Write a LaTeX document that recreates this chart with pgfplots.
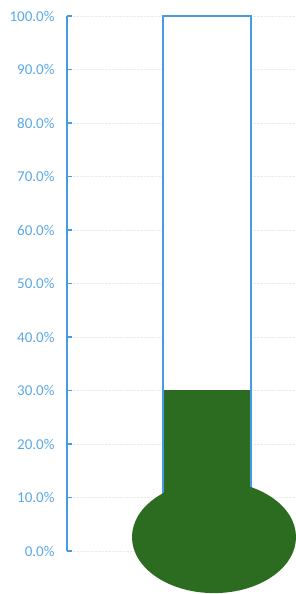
\documentclass[border=0pt]{standalone}
\usepackage{pgfplots}
\pgfplotsset{compat=1.18}
\usepackage{fontspec}
\setmainfont{Carlito}
\definecolor{axblue}{RGB}{70,155,230}
\definecolor{lblblue}{RGB}{90,168,230}
\definecolor{fillgreen}{RGB}{44,108,32}
\begin{document}
\begin{tikzpicture}
\useasboundingbox (0,0) rectangle (296bp,594bp);
\begin{axis}[
  at={(67bp,43bp)}, anchor=south west,
  scale only axis, width=229bp, height=535bp,
  xmin=0, xmax=229, ymin=0, ymax=100,
  clip=false,
  axis line style={draw=none},
  xtick=\empty,
  ytick={0,10,...,100},
  ytick pos=left,
  tick align=inside,
  major tick length=4.5bp,
  tick style={draw=axblue, line width=1.5bp},
  ymajorgrids,
  grid style={densely dotted, draw=gray!15, line width=0.6bp},
  yticklabel={\pgfmathprintnumber[fixed,fixed zerofill,precision=1]{\tick}\%},
  /pgf/number format/assume math mode=true,
  yticklabel style={font=\fontsize{15bp}{17bp}\selectfont, text=lblblue, anchor=east, xshift=-9bp},
]
% thermometer tube outline (100%)
\addplot[ybar, bar width=88, draw=axblue, line width=1.5bp, fill=white] coordinates {(140,100)};
% value (30%)
\addplot[ybar, bar width=86, draw=none, fill=fillgreen] coordinates {(140,30)};
% bulb
\fill[fillgreen] (axis cs:147,2.6) ellipse [x radius=82bp, y radius=56bp];
% y axis line
\draw[axblue, line width=1.5bp] (axis cs:0,0) -- (axis cs:0,100);
\end{axis}
\end{tikzpicture}
\end{document}
